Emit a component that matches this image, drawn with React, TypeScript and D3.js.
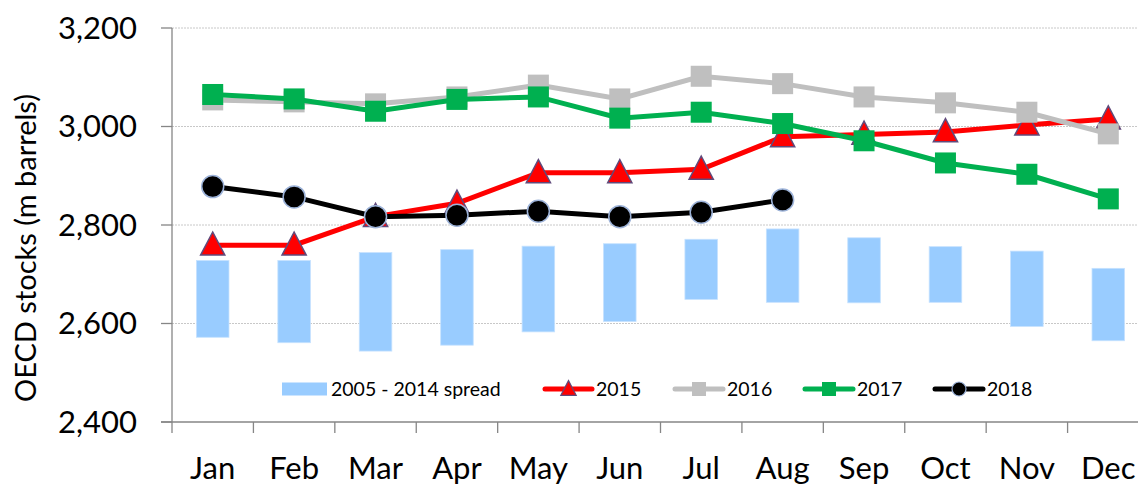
import React from "react";
import * as d3 from "d3";

const months = ["Jan", "Feb", "Mar", "Apr", "May", "Jun", "Jul", "Aug", "Sep", "Oct", "Nov", "Dec"];
const spreadLow = [2572, 2561, 2544, 2556, 2583, 2604, 2649, 2643, 2642, 2643, 2594, 2565];
const spreadHigh = [2728, 2728, 2744, 2750, 2757, 2762, 2771, 2792, 2774, 2756, 2747, 2712];
const s2015 = [2759, 2759, 2817, 2844, 2906, 2906, 2913, 2979, 2984, 2989, 3003, 3015];
const s2016 = [3054, 3050, 3046, 3060, 3084, 3056, 3102, 3087, 3060, 3048, 3029, 2985];
const s2017 = [3065, 3056, 3031, 3055, 3060, 3017, 3029, 3006, 2971, 2926, 2903, 2853];
const s2018 = [2878, 2857, 2817, 2820, 2828, 2817, 2826, 2851];
const yTicks = [2400, 2600, 2800, 3000, 3200];

const W = 1138, H = 487;
const left = 172, right = 1149, top = 28, bottom = 422;
const FONT = "Lato, 'Open Sans', sans-serif";

export default function App() {
  const x = d3.scaleBand<string>().domain(months).range([left, right]).padding(0);
  const xBar = d3.scaleBand<string>().domain(months).range([left, right]).paddingInner(0.6).paddingOuter(0.3);
  const y = d3.scaleLinear().domain([2400, 3200]).range([bottom, top]);
  const cx = (i: number) => (x(months[i]) as number) + x.bandwidth() / 2;
  const line = d3.line<number>().x((_, i) => cx(i)).y((v) => y(v));
  const fmt = d3.format(",");

  const tri = (px: number, py: number, s: number) =>
    `M${px},${py - s * 0.6} L${px + s * 0.55},${py + s * 0.45} L${px - s * 0.55},${py + s * 0.45} Z`;

  const legendY = 389;
  const lf = 19.5;

  return (
    <svg width={W} height={H} style={{ position: "absolute", left: 0, top: 0, background: "#fff" }} fontFamily={FONT}>
      {yTicks.filter((t) => t > 2400).map((t) => (
        <line key={t} x1={left} x2={W} y1={y(t)} y2={y(t)} stroke="#c8c8c8" strokeWidth={1} strokeDasharray="2,1" />
      ))}
      {months.map((m, i) => (
        <rect key={m} x={xBar(m)} width={xBar.bandwidth()} y={y(spreadHigh[i])}
          height={y(spreadLow[i]) - y(spreadHigh[i])} fill="#99CCFF" stroke="#c6e2ff" strokeWidth={0.8} />
      ))}
      <line x1={left} x2={left} y1={top} y2={bottom} stroke="#868686" strokeWidth={1.3} />
      {yTicks.map((t) => (
        <line key={t} x1={161} x2={left} y1={y(t)} y2={y(t)} stroke="#868686" strokeWidth={1.3} />
      ))}
      <line x1={161} x2={W} y1={bottom} y2={bottom} stroke="#868686" strokeWidth={1.3} />
      {months.map((m) => (
        <line key={m} x1={x(m) as number} x2={x(m) as number} y1={bottom} y2={bottom + 11} stroke="#868686" strokeWidth={1.3} />
      ))}
      {yTicks.map((t) => (
        <text key={t} x={137} y={y(t)} dy="0.35em" textAnchor="end" fontSize={31} fill="#000">{fmt(t)}</text>
      ))}
      {months.map((m, i) => (
        <text key={m} x={cx(i)} y={479} textAnchor="middle" fontSize={31} fill="#000">{m}</text>
      ))}
      <text transform={`translate(36,248) rotate(-90)`} textAnchor="middle" fontSize={29} fill="#000">OECD stocks (m barrels)</text>

      <path d={line(s2015) as string} fill="none" stroke="#FF0000" strokeWidth={5} />
      {s2015.map((v, i) => (
        <path key={i} d={tri(cx(i), y(v), 22)} fill="#FF0000" stroke="#604A7B" strokeWidth={1.5} />
      ))}
      <path d={line(s2016) as string} fill="none" stroke="#BFBFBF" strokeWidth={5} />
      {s2016.map((v, i) => (
        <rect key={i} x={cx(i) - 10.5} y={y(v) - 10.5} width={21} height={21} fill="#BFBFBF" />
      ))}
      <path d={line(s2017) as string} fill="none" stroke="#00B050" strokeWidth={5} />
      {s2017.map((v, i) => (
        <rect key={i} x={cx(i) - 10.5} y={y(v) - 10.5} width={21} height={21} fill="#00B050" />
      ))}
      <path d={line(s2018) as string} fill="none" stroke="#000000" strokeWidth={5} />
      {s2018.map((v, i) => (
        <circle key={i} cx={cx(i)} cy={y(v)} r={11} fill="#000" stroke="#9DB3D9" strokeWidth={1.5} />
      ))}

      <rect x={282} y={legendY - 6.5} width={45} height={13} fill="#99CCFF" />
      <text x={331} y={legendY} dy="0.35em" fontSize={lf} fill="#000">2005 - 2014 spread</text>

      <line x1={545} x2={592} y1={legendY} y2={legendY} stroke="#FF0000" strokeWidth={5} strokeLinecap="round" />
      <path d={tri(568.5, legendY, 14)} fill="#FF0000" stroke="#604A7B" strokeWidth={1.2} />
      <text x={596} y={legendY} dy="0.35em" fontSize={lf} fill="#000">2015</text>

      <line x1={675} x2={723} y1={legendY} y2={legendY} stroke="#BFBFBF" strokeWidth={5} strokeLinecap="round" />
      <rect x={699 - 7} y={legendY - 7} width={14} height={14} fill="#BFBFBF" />
      <text x={727} y={legendY} dy="0.35em" fontSize={lf} fill="#000">2016</text>

      <line x1={805} x2={853} y1={legendY} y2={legendY} stroke="#00B050" strokeWidth={5} strokeLinecap="round" />
      <rect x={829 - 7} y={legendY - 7} width={14} height={14} fill="#00B050" />
      <text x={857} y={legendY} dy="0.35em" fontSize={lf} fill="#000">2017</text>

      <line x1={935} x2={983} y1={legendY} y2={legendY} stroke="#000" strokeWidth={5} strokeLinecap="round" />
      <circle cx={959} cy={legendY} r={7} fill="#000" stroke="#9DB3D9" strokeWidth={1.2} />
      <text x={987} y={legendY} dy="0.35em" fontSize={lf} fill="#000">2018</text>
    </svg>
  );
}
